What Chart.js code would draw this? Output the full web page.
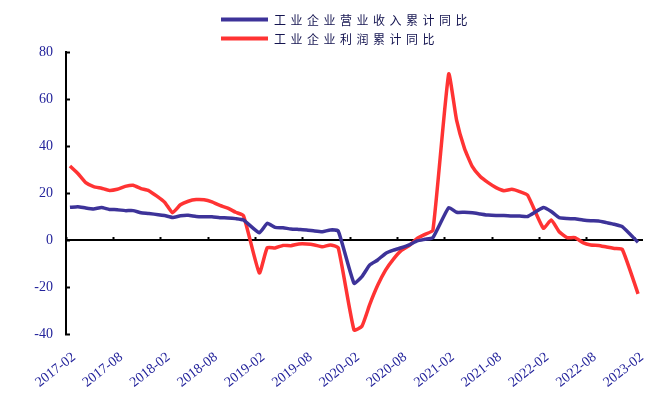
<!DOCTYPE html>
<html>
<head>
<meta charset="utf-8">
<script src="https://cdn.jsdelivr.net/npm/chart.js@4/dist/chart.umd.min.js"></script>
<style>
  html, body { margin: 0; padding: 0; background: #fff; }
  #wrap { width: 664px; height: 399px; }
</style>
</head>
<body>
<div id="wrap"><canvas id="chart" width="664" height="399"></canvas></div>
<script>
// months 2017-02 .. 2023-02, January has no data (cumulative series start in Feb)
const years = [2017, 2018, 2019, 2020, 2021, 2022, 2023];
const months = [];
years.forEach(y => {
    for (let m = 1; m <= 12; m++) {
        if ((y === 2017 && m < 2) || (y === 2023 && m > 2)) continue;
        months.push(y + '-' + String(m).padStart(2, '0'));
    }
});

// 工业企业营业收入累计同比 (%)
const revenueYoY = [
    13.9, 14.2, 13.6, 13.2, 13.8, 13.0, 12.9, 12.5, 12.5, 11.6, 11.3, null,
    10.4, 9.6, 10.3, 10.5, 10.0, 9.9, 9.9, 9.5, 9.4, 9.1, 8.5, null,
    3.1, 7.1, 5.4, 5.2, 4.7, 4.5, 4.3, 3.8, 3.5, 4.3, 3.8, null,
    -18.4, -15.6, -10.6, -8.5, -5.7, -4.3, -3.3, -2.1, -0.4, 0.3, 1.0, null,
    13.8, 11.8, 11.8, 11.6, 11.1, 10.6, 10.4, 10.4, 10.2, 10.2, 10.0, null,
    13.8, 12.1, 9.5, 9.1, 9.0, 8.5, 8.2, 8.1, 7.4, 6.7, 5.7, null,
    -1.0
];

// 工业企业利润累计同比 (%)
const profitYoY = [
    31.5, 28.3, 24.4, 22.7, 22.0, 21.1, 21.6, 22.8, 23.3, 21.9, 21.0, null,
    16.1, 11.6, 15.0, 16.5, 17.2, 17.1, 16.2, 14.7, 13.6, 11.8, 10.3, null,
    -14.0, -3.3, -3.4, -2.3, -2.4, -1.7, -1.7, -2.1, -2.9, -2.1, -3.3, null,
    -38.3, -36.7, -27.4, -19.3, -12.8, -8.1, -4.4, -2.4, 0.7, 2.4, 4.1, null,
    70.6, 51.0, 39.0, 31.2, 27.0, 24.4, 22.3, 21.0, 21.6, 20.6, 19.1, null,
    5.0, 8.5, 3.5, 1.0, 1.0, -1.1, -2.1, -2.3, -3.0, -3.6, -4.0, null,
    -22.9
];

const seriesNames = ['工业企业营业收入累计同比', '工业企业利润累计同比'];
const seriesColors = ['#3d3399', '#ff3333'];

const yTicks = { min: -40, max: 80, step: 20 };
const labelEvery = 6;

const tickColor = '#23239b';
const serif = '"Liberation Serif", "Times New Roman", serif';

// two rows of legend, stacked, at the top middle
const stackedLegend = {
    id: 'stackedLegend',
    afterDraw(chart) {
        const ctx = chart.ctx;
        const hasSpacing = 'letterSpacing' in ctx;
        chart.data.datasets.forEach((ds, i) => {
            const y = 19.5 + i * 19;
            ctx.save();
            ctx.strokeStyle = ds.borderColor;
            ctx.lineWidth = 4;
            ctx.beginPath();
            ctx.moveTo(221, y);
            ctx.lineTo(268, y);
            ctx.stroke();
            ctx.fillStyle = '#141450';
            ctx.font = '12px "Noto Sans CJK SC"';
            if (hasSpacing) ctx.letterSpacing = '4.5px';
            ctx.textBaseline = 'middle';
            ctx.textAlign = 'left';
            ctx.fillText(ds.label, 274, y + 0.5);
            // restore() does not always reset this one, so the tick labels would get it too
            if (hasSpacing) ctx.letterSpacing = '0px';
            ctx.restore();
        });
    }
};

new Chart(document.getElementById('chart').getContext('2d'), {
    type: 'line',
    data: {
        labels: months,
        datasets: [
            {
                label: seriesNames[0],
                data: revenueYoY,
                borderColor: seriesColors[0],
                backgroundColor: seriesColors[0],
                borderWidth: 3.5,
                pointRadius: 0,
                tension: 0.15,
                spanGaps: true
            },
            {
                label: seriesNames[1],
                data: profitYoY,
                borderColor: seriesColors[1],
                backgroundColor: seriesColors[1],
                borderWidth: 3.5,
                pointRadius: 0,
                tension: 0.15,
                spanGaps: true
            }
        ]
    },
    options: {
        responsive: false,
        animation: false,
        layout: { padding: { top: 52, right: 22, left: 0, bottom: 0 } },
        plugins: {
            legend: { display: false },
            tooltip: { enabled: false }
        },
        scales: {
            x: {
                type: 'category',
                position: 'bottom',
                offset: true,
                grid: { display: false },
                border: { display: false },
                ticks: {
                    autoSkip: false,
                    minRotation: 38,
                    maxRotation: 38,
                    padding: 7,
                    labelOffset: 4,
                    color: tickColor,
                    font: { family: serif, size: 14 },
                    callback: (v, i) => (i % labelEvery === 0 ? months[i] : '')
                },
                afterFit: (scale) => { scale.height = 65; }
            },
            x2: {
                type: 'category',
                position: { y: 0 },
                offset: true,
                grid: {
                    offset: true,
                    drawOnChartArea: false,
                    drawTicks: true,
                    tickLength: -4,
                    tickWidth: 2,
                    tickColor: (c) => (c.index % labelEvery === 0 ? '#000' : 'rgba(0,0,0,0)')
                },
                border: { display: true, color: '#000', width: 2 },
                ticks: { display: false, autoSkip: false }
            },
            y: {
                min: yTicks.min,
                max: yTicks.max,
                grid: {
                    drawOnChartArea: false,
                    drawTicks: true,
                    tickLength: -4,
                    tickWidth: 2,
                    tickColor: '#000'
                },
                border: { display: true, color: '#000', width: 2 },
                ticks: {
                    stepSize: yTicks.step,
                    padding: 17,
                    color: tickColor,
                    font: { family: serif, size: 14 }
                },
                afterFit: (scale) => { scale.width = 66; }
            }
        }
    },
    plugins: [stackedLegend]
});
</script>
</body>
</html>
